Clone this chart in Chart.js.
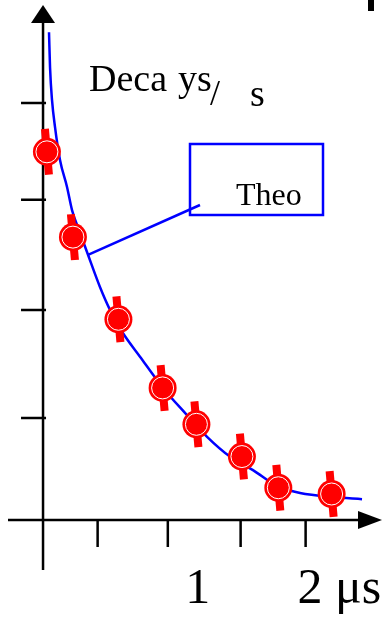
<!DOCTYPE html>
<html>
<head>
<meta charset="utf-8">
<script src="https://cdn.jsdelivr.net/npm/chart.js@4.4.1/dist/chart.umd.min.js"></script>
<style>
  html, body { margin: 0; padding: 0; background: #fff; }
  canvas { display: block; }
</style>
</head>
<body>
<canvas id="decayChart" width="384" height="619"></canvas>
<script>
// measured points (time in us, decays in tick units)
var timeUs = [0.03, 0.23, 0.58, 0.92, 1.18, 1.53, 1.81, 2.22];
var decays = [3.54, 2.72, 1.93, 1.27, 0.92, 0.61, 0.31, 0.25];
var decayErr = [0.22, 0.22, 0.22, 0.22, 0.22, 0.22, 0.22, 0.22];

// theory curve
var theoT = [0.046, 0.054, 0.069, 0.092, 0.131, 0.185, 0.223, 0.285, 0.346, 0.438, 0.515, 0.608,
             0.746, 0.923, 1.092, 1.262, 1.438, 1.615, 1.808, 1.977, 2.231, 2.454];
var theoY = [4.69, 4.35, 4.04, 3.78, 3.46, 3.20, 2.98, 2.76, 2.55, 2.24, 2.02, 1.81,
             1.57, 1.27, 1.03, 0.80, 0.61, 0.48, 0.32, 0.26, 0.22, 0.20];

var xTickVals = [0.42, 0.96, 1.52, 2.02];
var yTickVals = [0.98, 2.02, 3.08, 4.01];
var xLabels = ['1', '2 \u03bcs'];
var xLabelAt = [1.19, 2.28];
var calloutAt = [0.346, 2.55];

var points = [];
for (let i = 0; i < timeUs.length; i++) {
  points.push({x: timeUs[i], y: decays[i]});
}
var theo = [];
for (let i = 0; i < theoT.length; i++) {
  theo.push({x: theoT[i], y: theoY[i]});
}

// black axes with arrows and tick marks, drawn under the data
const axesPlugin = {
  id: 'axes',
  beforeDatasetsDraw(chart) {
    const ctx = chart.ctx;
    const xs = chart.scales.x;
    const ys = chart.scales.y;
    const x0 = xs.getPixelForValue(0);
    const y0 = ys.getPixelForValue(0);
    ctx.save();
    ctx.strokeStyle = '#000';
    ctx.fillStyle = '#000';
    ctx.lineWidth = 2.5;
    ctx.beginPath();
    ctx.moveTo(x0, y0 + 50);
    ctx.lineTo(x0, ys.top + 20);
    ctx.moveTo(xs.left + 8, y0);
    ctx.lineTo(xs.right - 24, y0);
    yTickVals.forEach(function (v) {
      const py = ys.getPixelForValue(v);
      ctx.moveTo(x0 - 22, py);
      ctx.lineTo(x0 + 3, py);
    });
    xTickVals.forEach(function (v) {
      const px = xs.getPixelForValue(v);
      ctx.moveTo(px, y0);
      ctx.lineTo(px, y0 + 27);
    });
    ctx.stroke();
    // arrow heads
    ctx.beginPath();
    ctx.moveTo(x0, ys.top + 5);
    ctx.lineTo(x0 - 12, ys.top + 23);
    ctx.lineTo(x0 + 12, ys.top + 23);
    ctx.closePath();
    ctx.fill();
    ctx.beginPath();
    ctx.moveTo(xs.right - 2, y0);
    ctx.lineTo(xs.right - 26, y0 - 9);
    ctx.lineTo(xs.right - 26, y0 + 9);
    ctx.closePath();
    ctx.fill();
    // stray mark in the top right corner
    ctx.fillRect(xs.right - 16, ys.top, 6, 11);
    ctx.restore();
  }
};

// slanted red error bars, under the markers
const errorBarPlugin = {
  id: 'errorBars',
  beforeDatasetDraw(chart, args) {
    if (args.index !== 1) return;
    const ctx = chart.ctx;
    const xs = chart.scales.x;
    const ys = chart.scales.y;
    ctx.save();
    ctx.strokeStyle = '#ff0000';
    ctx.lineWidth = 8;
    for (let i = 0; i < timeUs.length; i++) {
      const px = xs.getPixelForValue(timeUs[i]);
      ctx.beginPath();
      ctx.moveTo(px - 2, ys.getPixelForValue(decays[i] + decayErr[i]));
      ctx.lineTo(px + 2, ys.getPixelForValue(decays[i] - decayErr[i]));
      ctx.stroke();
    }
    ctx.restore();
  }
};

// title, callout box and x labels
const textPlugin = {
  id: 'texts',
  afterDraw(chart) {
    const ctx = chart.ctx;
    const xs = chart.scales.x;
    const ys = chart.scales.y;
    const y0 = ys.getPixelForValue(0);
    ctx.save();
    ctx.fillStyle = '#000';
    ctx.textBaseline = 'alphabetic';
    ctx.textAlign = 'left';
    ctx.font = '38px "Liberation Serif", "Times New Roman", serif';
    ctx.fillText('Deca', 89, 91);
    ctx.fillText('ys', 178, 91);
    ctx.fillText('s', 250, 106);
    ctx.font = '36px "Liberation Serif", "Times New Roman", serif';
    ctx.fillText('/', 210, 105);

    // callout
    ctx.strokeStyle = '#0000ff';
    ctx.lineWidth = 2.5;
    ctx.strokeRect(190, 144, 133, 71);
    ctx.beginPath();
    ctx.moveTo(xs.getPixelForValue(calloutAt[0]), ys.getPixelForValue(calloutAt[1]));
    ctx.lineTo(200, 205);
    ctx.stroke();
    ctx.font = '32px "Liberation Serif", "Times New Roman", serif';
    ctx.fillText('Theo', 236, 205);

    ctx.textAlign = 'center';
    ctx.font = '50px "Liberation Serif", "Times New Roman", serif';
    for (let i = 0; i < xLabels.length; i++) {
      ctx.fillText(xLabels[i], xs.getPixelForValue(xLabelAt[i]), y0 + 83);
    }
    ctx.restore();
  }
};

const ctx = document.getElementById('decayChart').getContext('2d');
var decayChart = new Chart(ctx, {
  type: 'scatter',
  data: {
    datasets: [{
      type: 'line',
      label: 'Theo',
      data: theo,
      borderColor: '#0000ff',
      borderWidth: 2.5,
      pointRadius: 0,
      cubicInterpolationMode: 'monotone',
      fill: false,
      order: 3
    }, {
      label: 'Decays',
      data: points,
      pointRadius: 14,
      backgroundColor: '#ff0000',
      borderColor: '#ff0000',
      borderWidth: 0,
      order: 2
    }, {
      label: 'ring',
      data: points,
      pointRadius: 11,
      backgroundColor: 'rgba(0,0,0,0)',
      borderColor: '#ffffff',
      borderWidth: 1,
      order: 1
    }]
  },
  options: {
    responsive: false,
    animation: false,
    devicePixelRatio: 1,
    layout: { padding: 0, autoPadding: false },
    plugins: {
      legend: { display: false },
      tooltip: { enabled: false }
    },
    scales: {
      x: { type: 'linear', min: -0.331, max: 2.623, display: false },
      y: { type: 'linear', min: -0.952, max: 5.0, display: false }
    }
  },
  plugins: [axesPlugin, errorBarPlugin, textPlugin]
});
</script>
</body>
</html>
